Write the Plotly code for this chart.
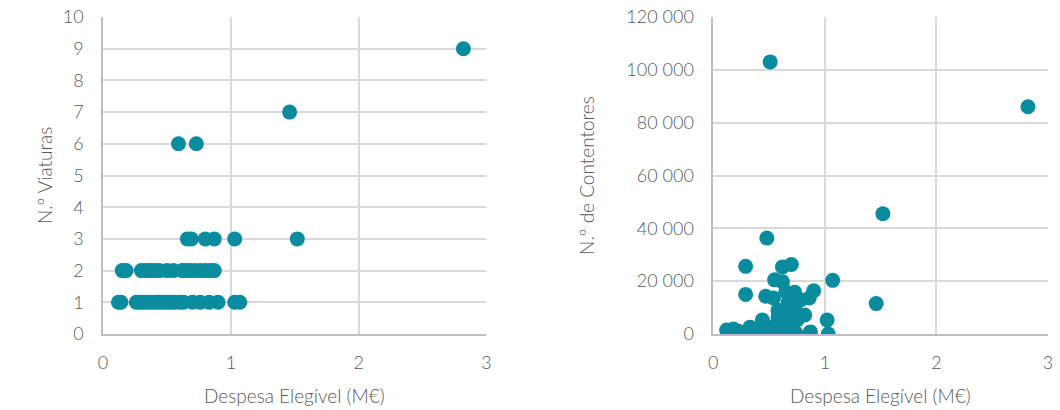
import plotly.graph_objects as go

# Viaturas vs despesa elegível (M€)
despesa_viat = [2.82, 1.46, 0.59, 0.73,
                0.66, 0.69, 0.80, 0.87, 1.03, 1.52,
                0.15, 0.18, 0.30, 0.34, 0.37, 0.40, 0.44, 0.50, 0.55, 0.62,
                0.65, 0.68, 0.72, 0.76, 0.80, 0.84, 0.87,
                0.12, 0.14, 0.26, 0.29, 0.32, 0.35, 0.38, 0.41, 0.44, 0.47,
                0.50, 0.53, 0.56, 0.60, 0.63, 0.70, 0.76, 0.83, 0.90, 1.03, 1.07]
viaturas = [9, 7, 6, 6,
            3, 3, 3, 3, 3, 3,
            2, 2, 2, 2, 2, 2, 2, 2, 2, 2,
            2, 2, 2, 2, 2, 2, 2,
            1, 1, 1, 1, 1, 1, 1, 1, 1, 1,
            1, 1, 1, 1, 1, 1, 1, 1, 1, 1, 1]

# Contentores vs despesa elegível (M€)
despesa_cont = [2.82, 0.51, 1.52, 1.46, 0.48, 0.29, 0.62, 0.70, 0.55, 0.62,
                1.07, 0.29, 0.47, 0.54, 0.73, 0.90, 0.86, 0.67, 0.73, 0.82,
                1.02, 1.03, 0.63, 0.75, 0.12, 0.14, 0.18, 0.22, 0.27, 0.33,
                0.36, 0.40, 0.44, 0.51, 0.56, 0.58, 0.62, 0.67, 0.70, 0.74,
                0.78, 0.58, 0.87, 0.16, 0.31, 0.45, 0.69, 0.65]
contentores = [86000, 103000, 45500, 11500, 36300, 25600, 25400, 26300, 20500, 19800,
               20300, 15000, 14300, 13600, 15800, 16400, 13600, 11800, 9800, 7200,
               5300, 0, 7200, 5300, 1500, 0, 1900, 1100, 400, 2600,
               1500, 800, 5300, 1500, 3400, 6400, 400, 3400, 9100, 400,
               12900, 9000, 800, 600, 300, 2000, 12500, 16000]

x_ticks = [0, 1, 2, 3]

COLOR = "#0A8C9E"
TXT = "#595959"
GRID = "#D9D9D9"
AXIS = "#BFBFBF"
FONT = "Lato"

fig = go.Figure()
fig.add_trace(go.Scatter(x=despesa_viat, y=viaturas, mode="markers",
                         marker=dict(color=COLOR, size=15), xaxis="x", yaxis="y",
                         showlegend=False))
fig.add_trace(go.Scatter(x=despesa_cont, y=contentores, mode="markers",
                         marker=dict(color=COLOR, size=15), xaxis="x2", yaxis="y2",
                         showlegend=False))

W, H = 1060, 410
top, bottom = 17, 334
tick_font = dict(family=FONT, size=18, color=TXT, weight=300)
common_x = dict(range=[0, 3], tickvals=x_ticks, showgrid=True, gridcolor=GRID, gridwidth=1.5,
                showline=True, linecolor=AXIS, linewidth=1.5, zeroline=False, ticks="",
                tickfont=tick_font, ticklabelstandoff=12)
common_y = dict(showgrid=True, gridcolor=GRID, gridwidth=1.5, showline=True, linecolor=AXIS,
                linewidth=1.5, zeroline=False, ticks="",
                tickfont=tick_font, ticklabelstandoff=14)

fig.update_layout(
    width=W, height=H,
    margin=dict(l=0, r=0, t=top, b=H - bottom),
    paper_bgcolor="white", plot_bgcolor="white",
    separators=". ",
    xaxis=dict(domain=[99 / W, 486 / W], anchor="y", **common_x),
    yaxis=dict(domain=[0, 1], anchor="x", range=[0, 10], dtick=1, **common_y),
    xaxis2=dict(domain=[715 / W, 1053 / W], anchor="y2", **common_x),
    yaxis2=dict(domain=[0, 1], anchor="x2", range=[0, 120000], dtick=20000,
                tickformat=",d", **common_y),
)

title_font = dict(family=FONT, size=19, color=TXT, weight=300)
fig.add_annotation(text="Despesa Elegível (M€)", x=(99 + 486) / 2 / W, y=-61 / (bottom - top),
                   xref="paper", yref="paper", showarrow=False, font=title_font,
                   xanchor="center", yanchor="middle")
fig.add_annotation(text="Despesa Elegível (M€)", x=(715 + 1053) / 2 / W, y=-61 / (bottom - top),
                   xref="paper", yref="paper", showarrow=False, font=title_font,
                   xanchor="center", yanchor="middle")
fig.add_annotation(text="N.º Viaturas", x=40 / W, y=0.5, textangle=-90,
                   xref="paper", yref="paper", showarrow=False, font=title_font,
                   xanchor="center", yanchor="middle")
fig.add_annotation(text="N.º de Contentores", x=587 / W, y=0.5, textangle=-90,
                   xref="paper", yref="paper", showarrow=False, font=title_font,
                   xanchor="center", yanchor="middle")

fig.write_html("out.html")
